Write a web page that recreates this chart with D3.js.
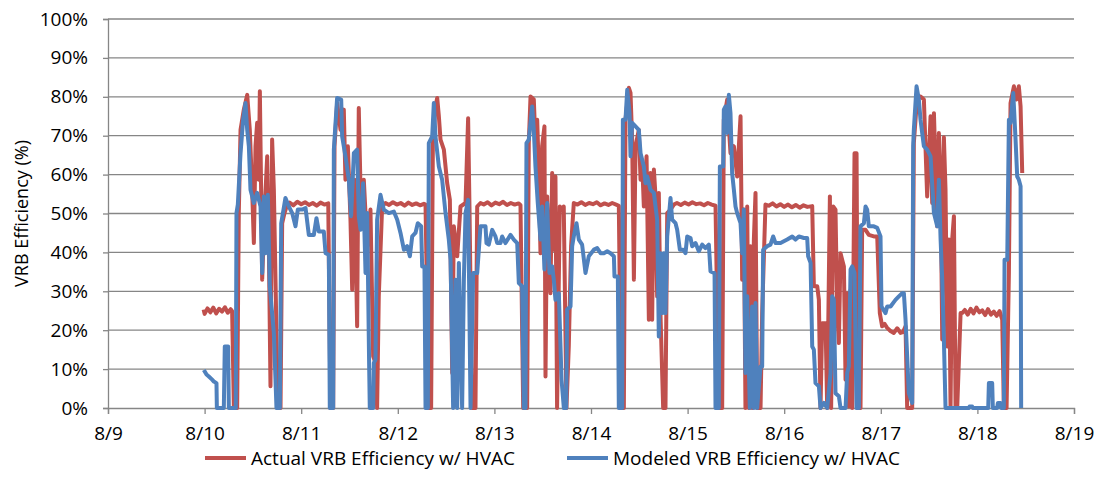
<!DOCTYPE html>
<html>
<head>
<meta charset="utf-8">
<script src="https://cdn.jsdelivr.net/npm/d3@7"></script>
<style>
  body { margin: 0; background: #fff; }
  svg text { font-family: "Open Sans", "Liberation Sans", sans-serif; fill: #000; }
</style>
</head>
<body>
<div id="chart"></div>
<script>
// Series names and colours (Excel-style)
const seriesNames = ['Actual VRB Efficiency w/ HVAC', 'Modeled VRB Efficiency w/ HVAC'];
const seriesColors = ['#C0504D', '#4F81BD'];

// x axis: day of August, y axis: percent
const dayTicks = [9, 10, 11, 12, 13, 14, 15, 16, 17, 18, 19];
const pctTicks = [0, 10, 20, 30, 40, 50, 60, 70, 80, 90, 100];

// [day of August, efficiency %]
const actual = [
  [9.99,25.3],[10.00,24.2],[10.03,25.6],[10.06,24.6],[10.09,25.8],[10.12,24.3],[10.15,25.5],[10.18,24.8],[10.21,25.9],[10.24,24.5],[10.27,25.4],[10.285,24.9],
  [10.303,0],[10.337,0],[10.354,50.1],[10.372,71.5],[10.406,76.7],[10.441,80.5],[10.468,71.5],[10.492,56.1],[10.510,42.4],[10.527,67.3],[10.544,73.3],[10.561,58.7],[10.572,81.4],[10.585,56.1],[10.596,33.0],[10.620,50.1],[10.648,64.7],[10.665,41.6],[10.682,5.6],[10.699,69.0],[10.717,56.1],[10.734,33.0],[10.758,0],[10.786,0],[10.803,47.5],[10.827,50.1],[10.855,52.3],
  [10.88,52.8],[10.92,52.1],[10.96,53.0],[11.00,52.4],[11.04,52.9],[11.08,52.2],[11.12,52.7],[11.16,52.0],[11.20,52.8],[11.24,52.3],[11.28,52.6],
  [11.303,0],[11.331,0],[11.345,67.3],[11.372,78.4],[11.407,71.5],[11.441,76.7],[11.458,58.7],[11.483,67.3],[11.510,48.4],[11.528,30.4],[11.552,58.7],[11.579,21.0],[11.596,77.1],[11.621,48.4],[11.648,58.7],[11.683,41.6],[11.717,51.0],[11.745,13.3],[11.769,11.6],[11.786,0],[11.803,28.7],[11.838,51.8],[11.872,52.7],
  [11.91,52.2],[11.95,52.9],[11.99,52.3],[12.03,52.7],[12.07,52.0],[12.11,52.8],[12.15,52.2],[12.19,52.6],[12.23,52.1],[12.27,52.5],[12.287,52.3],
  [12.321,0],[12.345,0],[12.363,68.1],[12.390,77.5],[12.408,79.7],[12.425,75.0],[12.442,69.0],[12.477,66.4],[12.511,57.8],[12.539,53.5],[12.563,9.0],[12.580,46.7],[12.615,39.0],[12.649,51.8],[12.701,52.7],[12.728,74.5],[12.742,51.8],[12.753,30.4],[12.770,0],[12.804,0],[12.822,51.8],[12.856,52.7],
  [12.89,52.3],[12.93,52.9],[12.97,52.1],[13.01,52.8],[13.05,52.4],[13.09,53.0],[13.13,52.2],[13.17,52.7],[13.21,52.3],[13.25,52.6],[13.27,52.2],
  [13.298,0],[13.339,0],[13.356,68.1],[13.374,80.1],[13.408,79.3],[13.425,68.1],[13.443,74.1],[13.460,60.4],[13.477,39.8],[13.494,67.3],[13.518,72.4],[13.529,8.1],[13.546,54.4],[13.580,29.5],[13.598,60.4],[13.615,40.7],[13.632,59.5],[13.649,0],[13.677,51.8],[13.701,51.0],[13.718,51.8],[13.746,0],[13.770,15.8],[13.794,41.6],[13.822,52.7],
  [13.86,52.3],[13.90,52.9],[13.94,52.2],[13.98,52.7],[14.02,52.4],[14.06,52.9],[14.10,52.1],[14.14,52.6],[14.18,52.2],[14.22,52.7],[14.26,52.3],[14.288,52.0],
  [14.312,0],[14.340,0],[14.357,74.1],[14.392,82.3],[14.409,81.0],[14.426,69.0],[14.444,33.0],[14.461,67.3],[14.495,71.5],[14.513,58.7],[14.530,63.0],[14.547,51.8],[14.575,64.7],[14.599,22.7],[14.616,60.4],[14.633,22.7],[14.651,61.3],[14.668,54.4],[14.685,28.7],[14.702,55.3],[14.720,23.5],[14.747,0],[14.771,0],[14.789,50.1],[14.823,51.0],[14.858,52.3],
  [14.89,52.7],[14.93,52.2],[14.97,52.8],[15.01,52.3],[15.05,52.9],[15.09,52.4],[15.13,52.6],[15.17,52.1],[15.21,52.7],[15.25,52.3],[15.289,52.0],
  [15.323,0],[15.358,0],[15.375,74.1],[15.410,79.3],[15.444,65.5],[15.479,67.3],[15.513,59.5],[15.548,75.0],[15.565,33.0],[15.582,51.0],[15.599,0],[15.617,51.8],[15.634,0],[15.651,41.6],[15.668,0],[15.686,43.3],[15.703,55.3],[15.720,0],[15.755,0],[15.772,24.4],[15.806,52.3],
  [15.84,52.0],[15.88,52.6],[15.92,51.8],[15.96,52.4],[16.00,51.7],[16.04,52.3],[16.08,51.6],[16.12,52.2],[16.16,51.5],[16.20,52.1],[16.24,51.7],[16.29,51.9],
  [16.307,31.3],[16.342,31.3],[16.359,27.8],[16.376,0],[16.393,21.8],[16.428,21.8],[16.445,0],[16.473,54.4],[16.486,0],[16.507,51.8],[16.531,51.0],[16.549,24.4],[16.566,16.7],[16.583,39.8],[16.600,38.1],[16.618,36.4],[16.635,7.3],[16.652,29.5],[16.669,0.4],[16.687,30.4],[16.704,0],[16.728,65.5],[16.749,65.5],[16.763,0],[16.790,0],
  [16.807,45.8],[16.842,45.8],[16.876,44.5],[16.928,44.1],[16.963,44.1],[16.990,24.4],[17.014,21.0],[17.04,21.6],[17.066,20.6],[17.10,19.8],[17.135,19.3],[17.17,20.5],[17.204,19.3],[17.23,19.5],[17.256,21.0],[17.273,0],[17.325,0],
  [17.342,68.1],[17.377,80.1],[17.411,80.1],[17.446,79.3],[17.480,54.4],[17.515,75.0],[17.532,52.7],[17.550,75.8],[17.584,46.7],[17.601,70.7],[17.619,58.7],[17.636,17.6],[17.653,69.6],[17.670,56.1],[17.688,15.8],[17.705,43.3],[17.722,0],[17.739,43.3],[17.757,49.3],[17.774,0],[17.791,0],
  [17.826,24.4],[17.843,24.4],[17.87,25.2],[17.90,24.0],[17.93,25.5],[17.96,24.3],[17.99,25.8],[18.02,24.6],[18.05,25.1],[18.08,23.9],[18.11,25.4],[18.14,24.0],[18.17,24.8],[18.20,23.7],[18.23,24.9],[18.257,22.7],
  [18.274,0],[18.302,0],[18.326,34.7],[18.343,78.4],[18.378,82.7],[18.405,79.3],[18.429,82.7],[18.447,77.5],[18.464,60.4]
];

const modeled = [
  [9.992,9.8],[10.020,8.6],[10.044,8.1],[10.078,7.3],[10.096,6.8],[10.123,6.4],[10.127,0],[10.199,0],[10.209,15.8],[10.244,15.8],[10.251,0],[10.323,0],
  [10.330,50.1],[10.344,52.3],[10.372,65.5],[10.399,74.1],[10.423,78.4],[10.441,71.5],[10.458,67.3],[10.475,56.1],[10.510,52.7],[10.544,55.3],[10.579,51.8],[10.596,34.7],[10.613,54.4],[10.630,39.8],[10.655,54.8],[10.675,31.3],[10.699,24.4],[10.717,19.3],[10.744,0],[10.779,0],
  [10.793,47.5],[10.837,54.0],[10.872,51.8],[10.907,50.1],[10.941,46.7],[10.965,51.0],[11.010,51.0],[11.045,51.4],[11.079,44.5],[11.131,44.5],[11.158,48.8],[11.182,45.4],[11.234,45.4],[11.252,39.8],[11.286,39.4],[11.296,0],[11.331,0],
  [11.338,66.4],[11.372,79.7],[11.414,79.3],[11.424,69.8],[11.458,64.7],[11.493,58.7],[11.517,49.3],[11.545,65.5],[11.579,66.4],[11.596,49.3],[11.614,45.8],[11.641,57.8],[11.666,34.7],[11.683,50.1],[11.703,11.6],[11.710,0],[11.745,0],[11.752,11.6],[11.769,12.4],
  [11.786,48.4],[11.821,54.8],[11.855,51.0],[11.907,50.1],[11.959,50.5],[11.994,48.4],[12.028,45.0],[12.063,40.7],[12.097,41.6],[12.125,39.0],[12.149,44.1],[12.183,45.0],[12.207,47.5],[12.242,46.7],[12.252,36.4],[12.276,36.4],[12.287,0],[12.311,0],
  [12.321,68.1],[12.356,69.8],[12.373,78.4],[12.390,69.8],[12.425,62.1],[12.459,58.7],[12.494,50.1],[12.528,43.3],[12.546,38.1],[12.573,0],[12.597,33.0],[12.615,0],[12.632,37.3],[12.666,0],[12.684,33.0],[12.701,50.1],[12.728,53.5],[12.753,0],
  [12.780,34.7],[12.822,34.7],[12.856,46.7],[12.908,46.7],[12.918,42.4],[12.942,42.0],[12.977,45.8],[13.011,44.1],[13.029,42.4],[13.063,42.4],[13.080,44.1],[13.115,42.4],[13.167,44.5],[13.201,43.3],[13.236,42.4],[13.253,32.1],[13.287,31.3],[13.305,0],[13.322,0],
  [13.332,68.1],[13.356,69.0],[13.391,77.5],[13.408,71.5],[13.425,62.1],[13.449,52.7],[13.477,43.3],[13.494,51.8],[13.518,35.6],[13.546,52.7],[13.570,34.7],[13.598,36.4],[13.615,33.0],[13.632,27.8],[13.667,29.5],[13.695,7.3],[13.719,0],[13.743,0],
  [13.753,25.3],[13.788,26.1],[13.805,41.6],[13.822,44.1],[13.850,47.5],[13.874,43.3],[13.908,42.0],[13.943,34.7],[13.977,39.0],[14.030,40.7],[14.064,41.1],[14.099,39.8],[14.133,39.8],[14.168,40.3],[14.202,39.8],[14.237,39.0],[14.243,33.8],[14.278,33.8],[14.288,0],[14.323,0],
  [14.330,74.1],[14.357,74.1],[14.375,81.8],[14.399,75.8],[14.409,64.7],[14.426,73.3],[14.461,72.4],[14.495,71.5],[14.513,65.5],[14.547,62.1],[14.564,57.8],[14.582,59.5],[14.616,56.1],[14.651,55.3],[14.685,48.4],[14.702,18.4],[14.720,39.8],[14.737,24.4],[14.754,39.8],[14.771,24.4],[14.789,44.1],
  [14.823,54.0],[14.840,48.4],[14.875,47.5],[14.892,45.8],[14.920,40.7],[14.954,40.7],[14.978,39.8],[14.996,44.1],[15.030,43.7],[15.047,41.6],[15.082,42.4],[15.116,40.3],[15.151,42.0],[15.185,41.1],[15.220,42.0],[15.237,35.1],[15.279,34.7],[15.289,0],[15.323,0],
  [15.334,62.1],[15.368,62.1],[15.375,76.7],[15.392,77.5],[15.410,70.7],[15.427,80.5],[15.444,75.8],[15.461,60.4],[15.479,56.1],[15.496,51.8],[15.513,50.1],[15.548,47.5],[15.565,39.8],[15.582,51.0],[15.599,9.0],[15.617,28.7],[15.644,0],[15.668,26.1],[15.686,0],[15.703,27.0],[15.720,0],[15.755,10.7],[15.772,10.7],
  [15.782,40.7],[15.824,41.6],[15.858,42.0],[15.886,44.1],[15.910,42.4],[15.962,42.4],[16.031,43.3],[16.083,44.1],[16.117,43.3],[16.152,44.1],[16.204,43.7],[16.238,43.7],[16.248,39.0],[16.273,37.3],
  [16.290,15.8],[16.307,15.0],[16.324,6.4],[16.359,5.6],[16.376,0],[16.411,1.3],[16.445,0],[16.480,9.0],[16.497,28.7],[16.514,27.8],[16.531,3.8],[16.566,3.0],[16.583,0],[16.635,0],[16.652,9.0],[16.669,10.7],[16.687,35.6],[16.704,36.4],[16.728,34.7],[16.749,0],[16.773,0],
  [16.790,46.7],[16.825,47.5],[16.842,51.8],[16.859,51.0],[16.876,46.7],[16.928,46.7],[16.963,46.3],[16.997,44.1],[17.007,26.1],[17.049,24.4],[17.066,26.1],[17.101,26.1],[17.152,27.8],[17.187,28.7],[17.221,29.5],[17.239,29.5],[17.256,22.7],[17.290,3.8],[17.325,1.3],
  [17.335,67.3],[17.342,71.5],[17.370,82.7],[17.394,79.3],[17.411,74.1],[17.446,67.3],[17.480,66.4],[17.515,64.7],[17.550,50.1],[17.584,46.7],[17.601,58.7],[17.619,43.3],[17.636,33.0],[17.653,17.6],[17.670,0],
  [17.912,0],[17.919,0.4],[17.946,0.4],[17.953,0],[18.112,0],[18.119,6.4],[18.153,6.4],[18.160,0],[18.205,0],[18.212,1.3],[18.240,1.3],[18.246,0],[18.274,0],
  [18.281,38.1],[18.309,38.1],[18.326,74.1],[18.343,73.3],[18.371,81.0],[18.395,69.0],[18.412,59.5],[18.429,58.7],[18.447,57.0],[18.453,0]
];

// Set the dimensions and margins of the plot area
let margin = { top: 19, right: 25, bottom: 89, left: 108 },
    width = 1099 - margin.left - margin.right,
    height = 497 - margin.top - margin.bottom;

let svg = d3.select('#chart').append('svg')
    .attr('width', 1099)
    .attr('height', 497);

let g = svg.append('g')
    .attr('transform', `translate(${margin.left},${margin.top})`);

let x = d3.scaleLinear().domain([9, 19]).range([0, width]);
let y = d3.scaleLinear().domain([0, 100]).range([height, 0]);

const axisColor = '#868686';
const fontSize = 19;

// horizontal gridlines
g.selectAll('line.grid')
    .data(pctTicks.slice(1))
    .enter().append('line')
    .attr('class', 'grid')
    .attr('x1', 0).attr('x2', width)
    .attr('y1', d => y(d)).attr('y2', d => y(d))
    .attr('stroke', axisColor)
    .attr('stroke-width', 1.3);

// y axis
let yAxis = g.append('g')
    .call(d3.axisLeft(y).tickValues(pctTicks).tickFormat(d => d + '%').tickSize(5).tickPadding(15));
// x axis
let xAxis = g.append('g')
    .attr('transform', `translate(0,${height})`)
    .call(d3.axisBottom(x).tickValues(dayTicks).tickFormat(d => '8/' + d).tickSize(6).tickPadding(13));

[yAxis, xAxis].forEach(a => {
    a.select('.domain').attr('stroke', axisColor).attr('stroke-width', 1.3);
    a.selectAll('.tick line').attr('stroke', axisColor).attr('stroke-width', 1.3);
    a.selectAll('.tick text')
        .attr('fill', '#000')
        .style('font-size', fontSize + 'px')
        .style('font-family', '"Open Sans", "Liberation Sans", sans-serif');
});

// y axis title
svg.append('text')
    .attr('transform', `translate(22,${margin.top + height / 2}) rotate(-90)`)
    .attr('text-anchor', 'middle')
    .attr('dy', '0.35em')
    .style('font-size', '18px')
    .text('VRB Efficiency (%)');

// lines
let line = d3.line()
    .x(d => x(d[0]))
    .y(d => y(d[1]));

[actual, modeled].forEach((series, i) => {
    g.append('path')
        .datum(series)
        .attr('fill', 'none')
        .attr('stroke', seriesColors[i])
        .attr('stroke-width', 4)
        .attr('stroke-linejoin', 'round')
        .attr('d', line);
});

// legend
const legendX = [205, 567];
let legend = svg.selectAll('g.legend')
    .data(seriesNames)
    .enter().append('g')
    .attr('class', 'legend')
    .attr('transform', (d, i) => `translate(${legendX[i]},458)`);

legend.append('line')
    .attr('x1', 0).attr('x2', 41)
    .attr('stroke', (d, i) => seriesColors[i])
    .attr('stroke-width', 4);

legend.append('text')
    .attr('x', 46)
    .attr('dy', '0.35em')
    .style('font-size', fontSize + 'px')
    .text(d => d);
</script>
</body>
</html>
